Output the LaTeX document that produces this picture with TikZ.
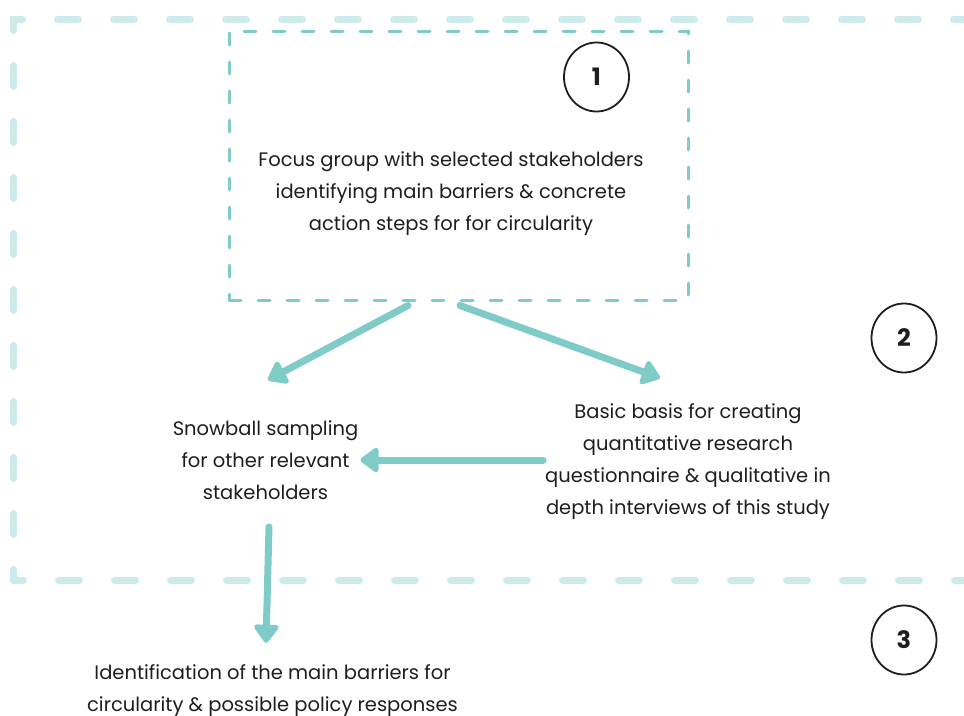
\documentclass[tikz,border=0pt]{standalone}
\usepackage{fontspec}
\setmainfont{Poppins}
\usepackage{tikz}
\usetikzlibrary{arrows.meta,positioning,shapes.geometric,calc}
\definecolor{flowteal}{HTML}{7FCBC8}
\definecolor{paleteal}{HTML}{CDEBEA}
\definecolor{inkgrey}{HTML}{1E1E1E}

\tikzset{
  stagering/.style={draw=inkgrey,line width=1.8pt,ellipse,minimum width=65pt,minimum height=69pt,inner sep=0pt,text=inkgrey,font=\fontsize{24}{24}\selectfont\bfseries},
  flowtext/.style={align=center,inner sep=2pt,text=inkgrey,font=\fontsize{19.5}{32}\selectfont},
  focusframe/.style={draw=flowteal,line width=3pt,line cap=round,dash pattern=on 12pt off 17pt,minimum width=459pt,minimum height=269pt,inner sep=0pt},
  stageframe/.style={draw=paleteal,line width=7pt,line cap=round,dash pattern=on 21pt off 35pt,dash phase=10.5pt},
  flowarrow/.style={flowteal,line width=7pt,line cap=round,-{Triangle[round,length=20pt,width=28pt]}},
}

\begin{document}
\begin{tikzpicture}[x=1pt,y=-1pt]
  \useasboundingbox (0,0) rectangle (964,715);
  % open frame round stages 1 and 2
  \draw[stageframe] (13,580) -- (13,19) -- (980,19);
  \draw[stageframe] (13,580) -- (980,580);
  % focus group box
  \node[focusframe] (focus) at (458.5,165.5) {};
  \node[flowtext] (focustext) at (451,194) {Focus group with selected stakeholders\\identifying main barriers \& concrete\\action steps for for circularity};
  % stage numbers
  \node[stagering] (one) at (596.5,77) {1};
  \node[stagering] (two) at (904,338) {2};
  \node[stagering] (three) at (904,640) {3};
  % outcomes
  \node[flowtext] (snowball) at (265.5,460) {Snowball sampling\\for other relevant\\stakeholders};
  \node[flowtext] (basis) at (688,462) {Basic basis for creating\\quantitative research\\questionnaire \& qualitative in\\depth interviews of this study};
  \node[flowtext] (ident) at (272.5,691) {Identification of the main barriers for\\circularity \& possible policy responses};
  % arrows
  \coordinate (snowtip) at (268,380);
  \coordinate (basistip) at (660,378);
  \draw[flowarrow] ([xshift=-50.5pt,yshift=-4pt]focus.south) -- (snowtip);
  \draw[flowarrow] ([xshift=1.5pt,yshift=-4pt]focus.south) -- (basistip);
  \draw[flowarrow] ([yshift=2pt]basis.west) -- ([yshift=2pt]basis.west -| snowball.east);
  \draw[flowarrow] (269,527) -- ([xshift=-6.5pt,yshift=20pt]ident.north);
\end{tikzpicture}
\end{document}
